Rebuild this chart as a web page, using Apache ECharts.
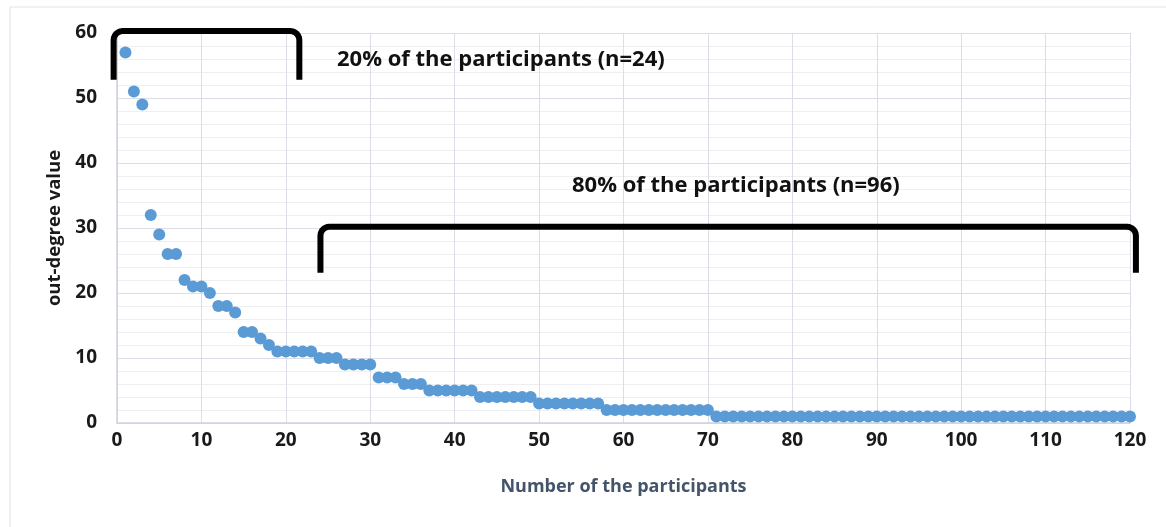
<!DOCTYPE html>
<html>
<head>
<meta charset="utf-8">
<script src="https://cdn.jsdelivr.net/npm/echarts@6/dist/echarts.min.js"></script>
<style>
  html, body { margin: 0; padding: 0; background: #fff; }
  #chart { width: 1166px; height: 527px; }
</style>
</head>
<body>
<div id="chart"></div>
<script>
// out-degree value per participant, sorted descending (participant 1..120)
var outDegree = [
  57, 51, 49, 32, 29, 26, 26, 22, 21, 21,
  20, 18, 18, 17, 14, 14, 13, 12, 11, 11,
  11, 11, 11, 10, 10, 10, 9, 9, 9, 9,
  7, 7, 7, 6, 6, 6, 5, 5, 5, 5,
  5, 5, 4, 4, 4, 4, 4, 4, 4, 3,
  3, 3, 3, 3, 3, 3, 3, 2, 2, 2,
  2, 2, 2, 2, 2, 2, 2, 2, 2, 2,
  1, 1, 1, 1, 1, 1, 1, 1, 1, 1,
  1, 1, 1, 1, 1, 1, 1, 1, 1, 1,
  1, 1, 1, 1, 1, 1, 1, 1, 1, 1,
  1, 1, 1, 1, 1, 1, 1, 1, 1, 1,
  1, 1, 1, 1, 1, 1, 1, 1, 1, 1
];
var xTicks = [0, 120, 10];   // min, max, interval
var yTicks = [0, 60, 10];

// bracket annotations in data units: [xStart, xEnd, yTop, yLegEnd]
var bracketTop20 = [-0.4, 21.6, 60.3, 52.8];
var bracketRest80 = [24.1, 120.7, 30.2, 23.1];
var labelTop20 = '20% of the participants (n=24)';
var labelRest80 = '80% of the participants (n=96)';

var points = [];
for (var i = 0; i < outDegree.length; i++) {
  points.push([i + 1, outDegree[i]]);
}

var fontFam = '"Open Sans", sans-serif';
var chart = echarts.init(document.getElementById('chart'));

chart.setOption({
  animation: false,
  grid: { left: 117, right: 36, top: 33, bottom: 104 },
  xAxis: {
    type: 'value',
    min: xTicks[0], max: xTicks[1], interval: xTicks[2],
    name: 'Number of the participants',
    nameLocation: 'middle',
    nameGap: 55,
    nameTextStyle: { color: '#44546A', fontSize: 18, fontWeight: 'bold', fontFamily: fontFam },
    axisLine: { lineStyle: { color: '#CDD2DE', width: 1.5 } },
    axisTick: { show: false },
    axisLabel: { color: '#1a1a1a', fontSize: 19, fontWeight: 'bold', fontFamily: fontFam, margin: 8 },
    splitLine: { show: true, lineStyle: { color: '#DCDDE6' } }
  },
  yAxis: {
    type: 'value',
    min: yTicks[0], max: yTicks[1], interval: yTicks[2],
    name: 'out-degree value',
    nameLocation: 'middle',
    nameGap: 50,
    nameTextStyle: { color: '#1a1a1a', fontSize: 18.5, fontWeight: 'bold', fontFamily: fontFam },
    axisLine: { show: true, lineStyle: { color: '#CDD2DE', width: 1.5 } },
    axisTick: { show: false },
    axisLabel: { color: '#1a1a1a', fontSize: 19, fontWeight: 'bold', fontFamily: fontFam, margin: 20 },
    splitLine: { show: true, lineStyle: { color: '#DCDDE6' } },
    minorTick: { show: false, splitNumber: 5 },
    minorSplitLine: { show: true, lineStyle: { color: '#EEEEF3' } }
  },
  series: [{
    type: 'scatter',
    data: points,
    symbol: 'circle',
    symbolSize: 12,
    itemStyle: { color: '#5B9BD5', opacity: 1 },
    z: 3
  }]
});

// rounded bracket polyline from data-unit spec
function bracketPoints(b) {
  var p0 = chart.convertToPixel({ gridIndex: 0 }, [b[0], b[2]]);
  var p1 = chart.convertToPixel({ gridIndex: 0 }, [b[1], b[3]]);
  var xl = p0[0], xr = p1[0], yt = p0[1], yb = p1[1];
  var r = 9, pts = [[xl, yb], [xl, yt + r]];
  var k;
  for (k = 1; k <= 6; k++) {
    var a = Math.PI - k * Math.PI / 12;
    pts.push([xl + r + r * Math.cos(a), yt + r - r * Math.sin(a)]);
  }
  pts.push([xr - r, yt]);
  for (k = 1; k <= 6; k++) {
    var a2 = Math.PI / 2 - k * Math.PI / 12;
    pts.push([xr - r + r * Math.cos(a2), yt + r - r * Math.sin(a2)]);
  }
  pts.push([xr, yb]);
  return pts;
}

var textStyle = { fill: '#111', fontSize: 22, fontWeight: 'bold', fontFamily: fontFam };

chart.setOption({
  graphic: [
    {
      type: 'rect', silent: true, z: -10,
      shape: { x: 10, y: 7, width: 1170, height: 530 },
      style: { fill: 'none', stroke: '#E2E2E2', lineWidth: 1 }
    },
    {
      type: 'polyline', silent: true, z: 10,
      shape: { points: bracketPoints(bracketTop20) },
      style: { stroke: '#000', lineWidth: 6, fill: null, lineJoin: 'round' }
    },
    {
      type: 'polyline', silent: true, z: 10,
      shape: { points: bracketPoints(bracketRest80) },
      style: { stroke: '#000', lineWidth: 6, fill: null, lineJoin: 'round' }
    },
    {
      type: 'text', silent: true, z: 10, x: 337, y: 60,
      style: Object.assign({ text: labelTop20, verticalAlign: 'middle' }, textStyle)
    },
    {
      type: 'text', silent: true, z: 10, x: 572, y: 186,
      style: Object.assign({ text: labelRest80, verticalAlign: 'middle' }, textStyle)
    }
  ]
});
</script>
</body>
</html>
